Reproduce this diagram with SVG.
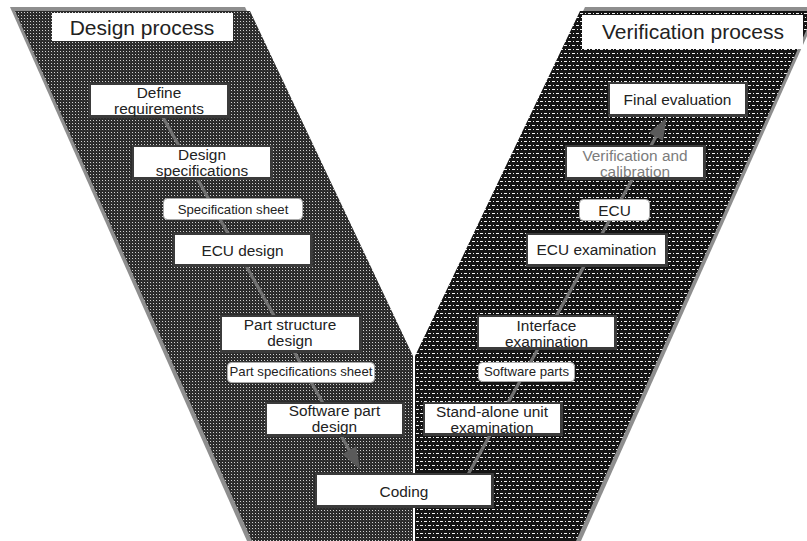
<svg xmlns="http://www.w3.org/2000/svg" width="807" height="541" viewBox="0 0 807 541">
  <defs>
    <!-- fine grey dot mesh for the design arm -->
    <pattern id="screen-design" width="3" height="3" patternUnits="userSpaceOnUse">
      <rect width="3" height="3" fill="#2b2b2b"/>
      <rect x="0" y="0" width="1" height="1" fill="#d2d2d2"/>
      <rect x="1" y="1" width="1" height="1" fill="#3c3c3c"/>
    </pattern>
    <!-- black with white dash-dot rows for the verification arm -->
    <pattern id="screen-verify" width="8" height="8" patternUnits="userSpaceOnUse">
      <rect width="8" height="8" fill="#141414"/>
      <rect x="0" y="1" width="3" height="1" fill="#f0f0f0"/>
      <rect x="5" y="1" width="1" height="1" fill="#f0f0f0"/>
      <rect x="4" y="5" width="3" height="1" fill="#f0f0f0"/>
      <rect x="1" y="5" width="1" height="1" fill="#f0f0f0"/>
    </pattern>
    <marker id="arrow" viewBox="0 0 7 5" markerWidth="7" markerHeight="5.4" refX="5" refY="2.5" orient="auto" markerUnits="strokeWidth">
      <path d="M0,0 L7,2.5 L0,5 z" fill="#5a5a5a"/>
    </marker>
    <style>
      .frame { fill: #3b3b3b; }
      .face { fill: #ffffff; }
      .tag { fill: #ffffff; stroke: #a8a8a8; stroke-width: 1; }
      .head { fill: #ffffff; }
      text { font-family: "Liberation Sans", Arial, sans-serif; text-anchor: middle; fill: #222; }
      .t { font-size: 15.4px; }
      .s { font-size: 13.2px; }
      .h { font-size: 21px; }
      .muted { fill: #7c7c7c; }
      .flow { stroke: #727272; stroke-width: 3.2; fill: none; }
    </style>
  </defs>

  <!-- the two arms of the V, each with a grey drop edge -->
  <g id="arms">
    <polygon points="10,7 245,7 408,352 408,541 247,541" fill="#8e8e8e"/>
    <polygon points="15,11 250,11 413,356 413,541 252,541" fill="url(#screen-design)"/>
    <polygon points="585,7 820,7 581,541 420,541 420,352" fill="#8e8e8e"/>
    <polygon points="580,11 815,11 576,541 415,541 415,356" fill="url(#screen-verify)"/>
  </g>

  <!-- flow lines running behind the boxes -->
  <g id="connectors">
    <line class="flow" x1="160" y1="112" x2="357" y2="464" marker-end="url(#arrow)"/>
    <line class="flow" x1="465" y1="480" x2="663.6" y2="123" marker-end="url(#arrow)"/>
  </g>

  <g id="design-process">
    <rect class="head" x="52" y="13" width="181" height="28"/>
    <text class="h" x="142" y="35">Design process</text>
  </g>
  <g id="verification-process">
    <rect class="head" x="582" y="15" width="221" height="34"/>
    <text class="h" x="693" y="39">Verification process</text>
  </g>

  <g id="define-requirements">
    <rect class="frame" x="89" y="83" width="141" height="35"/>
    <rect class="face" x="91" y="85" width="136" height="30"/>
    <text class="t" x="159" y="97.5">Define</text>
    <text class="t" x="159" y="113.5">requirements</text>
  </g>
  <g id="design-specifications">
    <rect class="frame" x="132" y="145" width="141" height="35"/>
    <rect class="face" x="134" y="147" width="136" height="30"/>
    <text class="t" x="202" y="160">Design</text>
    <text class="t" x="202" y="176">specifications</text>
  </g>
  <g id="specification-sheet">
    <rect class="tag" x="163.5" y="198.5" width="139" height="21" rx="4"/>
    <text class="s" x="233" y="213.5">Specification sheet</text>
  </g>
  <g id="ecu-design">
    <rect class="frame" x="173" y="233" width="140" height="34"/>
    <rect class="face" x="175" y="235" width="135" height="29"/>
    <text class="t" x="242.5" y="255.5">ECU design</text>
  </g>
  <g id="part-structure-design">
    <rect class="frame" x="220" y="315" width="142" height="38"/>
    <rect class="face" x="222" y="317" width="137" height="33"/>
    <text class="t" x="290" y="330">Part structure</text>
    <text class="t" x="290" y="346">design</text>
  </g>
  <g id="part-specifications-sheet">
    <rect class="tag" x="227.5" y="362.5" width="147" height="20" rx="4"/>
    <text class="s" x="301" y="376">Part specifications sheet</text>
  </g>
  <g id="software-part-design">
    <rect class="frame" x="265" y="402" width="140" height="35"/>
    <rect class="face" x="267" y="404" width="135" height="30"/>
    <text class="t" x="334.5" y="416">Software part</text>
    <text class="t" x="334.5" y="432">design</text>
  </g>
  <g id="coding">
    <rect class="frame" x="315" y="473" width="179" height="35"/>
    <rect class="face" x="317" y="475" width="174" height="30"/>
    <text class="t" x="404" y="496.5">Coding</text>
  </g>
  <g id="stand-alone-unit-examination">
    <rect class="frame" x="423" y="402" width="140" height="34"/>
    <rect class="face" x="425" y="404" width="135" height="29"/>
    <text class="t" x="492" y="416.5">Stand-alone unit</text>
    <text class="t" x="492" y="432.5">examination</text>
  </g>
  <g id="software-parts">
    <rect class="tag" x="478.5" y="362.5" width="96" height="19" rx="4"/>
    <text class="s" x="526.5" y="376">Software parts</text>
  </g>
  <g id="interface-examination">
    <rect class="frame" x="477" y="315" width="140" height="35"/>
    <rect class="face" x="479" y="317" width="135" height="30"/>
    <text class="t" x="546.5" y="330.5">Interface</text>
    <text class="t" x="546.5" y="346.5">examination</text>
  </g>
  <g id="ecu-examination">
    <rect class="frame" x="526" y="233" width="142" height="34"/>
    <rect class="face" x="528" y="235" width="137" height="29"/>
    <text class="t" x="596.5" y="255">ECU examination</text>
  </g>
  <g id="ecu">
    <rect class="tag" x="579.5" y="199.5" width="70" height="21" rx="4"/>
    <text class="t" x="614.5" y="216">ECU</text>
  </g>
  <g id="verification-and-calibration">
    <rect class="frame" x="565" y="145" width="141" height="35"/>
    <rect class="face" x="567" y="147" width="136" height="30"/>
    <text class="t muted" x="635" y="160.5">Verification and</text>
    <text class="t muted" x="635" y="176.5">calibration</text>
  </g>
  <g id="final-evaluation">
    <rect class="frame" x="608" y="82" width="140" height="35"/>
    <rect class="face" x="610" y="84" width="135" height="30"/>
    <text class="t" x="677.5" y="104.5">Final evaluation</text>
  </g>
</svg>
